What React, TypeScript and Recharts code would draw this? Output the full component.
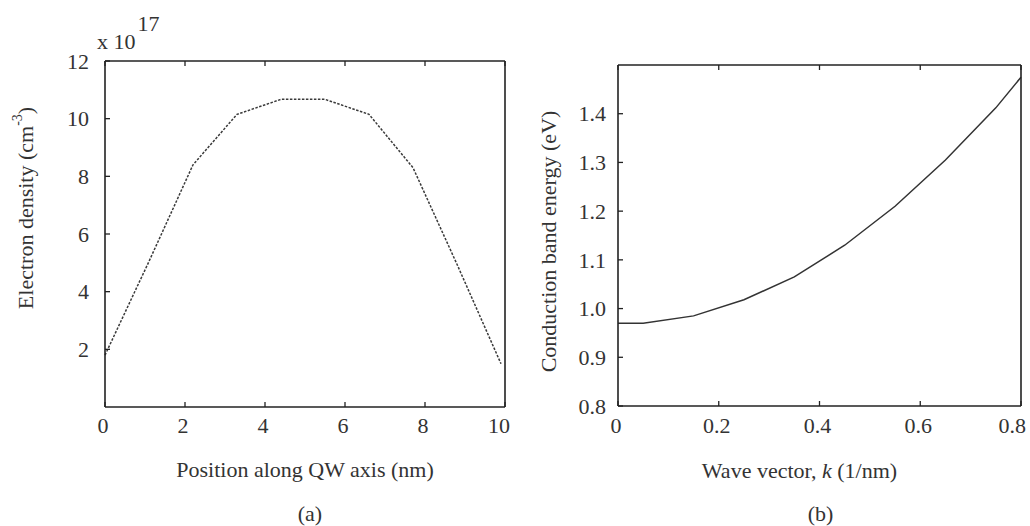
import React from 'react';
import { LineChart, Line, XAxis, YAxis } from 'recharts';

// ---------- Data: panel (a) ----------
const positionNm = [0, 1.1, 2.2, 3.3, 4.4, 5.5, 6.6, 7.7, 8.8, 9.9];
const electronDensity = [1.8, 5.05, 8.4, 10.15, 10.67, 10.67, 10.15, 8.3, 4.95, 1.5];
const densityXTicks = [0, 2, 4, 6, 8, 10];
const densityYTicks = [2, 4, 6, 8, 10, 12];

// ---------- Data: panel (b) ----------
const waveVector = [0, 0.05, 0.15, 0.25, 0.35, 0.45, 0.55, 0.65, 0.75, 0.8];
const bandEnergy = [0.97, 0.97, 0.985, 1.018, 1.065, 1.13, 1.21, 1.305, 1.412, 1.475];
const energyXTicks = [0, 0.2, 0.4, 0.6, 0.8];
const energyYTicks = [0.8, 0.9, 1.0, 1.1, 1.2, 1.3, 1.4];

const densityData = positionNm.map((x, i) => ({ x, y: electronDensity[i] }));
const energyData = waveVector.map((x, i) => ({ x, y: bandEnergy[i] }));

const FONT = '"Liberation Serif", "Times New Roman", serif';
const TXT = '#333';
const FRAME = '#222';
const FS = 22;
const TL = 5;

const axisLine = { stroke: FRAME, strokeWidth: 1.6 };

type Side = 'bottom' | 'top' | 'left' | 'right';

const makeTick = (side: Side, gap: number, fmt?: (v: number) => string, showLabel = true, lastValue?: number) =>
  (props: any) => {
    const { x, y, payload } = props;
    const v = payload.value;
    const label = fmt ? fmt(v) : String(v);
    let line = null;
    let text = null;
    if (side === 'bottom') {
      line = <line x1={x} x2={x} y1={y - gap} y2={y - gap - TL} stroke={FRAME} strokeWidth={1.3} />;
      const isLast = lastValue !== undefined && v === lastValue;
      if (showLabel)
        text = (
          <text
            x={isLast ? x + 5 : x - 2}
            y={y}
            dy="0.71em"
            textAnchor={isLast ? 'end' : 'middle'}
            fill={TXT}
            fontSize={FS}
            fontFamily={FONT}
          >
            {label}
          </text>
        );
    } else if (side === 'top') {
      line = <line x1={x} x2={x} y1={y + gap} y2={y + gap + TL} stroke={FRAME} strokeWidth={1.3} />;
    } else if (side === 'left') {
      line = <line x1={x + gap} x2={x + gap + TL} y1={y} y2={y} stroke={FRAME} strokeWidth={1.3} />;
      if (showLabel)
        text = (
          <text x={x} y={y} dy="0.35em" textAnchor="end" fill={TXT} fontSize={FS} fontFamily={FONT}>
            {label}
          </text>
        );
    } else {
      line = <line x1={x - gap} x2={x - gap - TL} y1={y} y2={y} stroke={FRAME} strokeWidth={1.3} />;
    }
    return (
      <g>
        {line}
        {text}
      </g>
    );
  };

const txtProps = { fill: TXT, fontSize: FS, fontFamily: FONT };

const DensityYTitle = (p: any) => {
  const vb = p.viewBox || {};
  const cx = vb.x + 25;
  const cy = vb.y + vb.height / 2 - 26;
  return (
    <text {...txtProps} x={cx} y={cy} textAnchor="middle" dominantBaseline="central" transform={`rotate(-90 ${cx} ${cy})`}>
      Electron density (cm
      <tspan dy={-8} fontSize={14}>-3</tspan>
      <tspan dy={8}>)</tspan>
    </text>
  );
};

const DensityXTitle = (p: any) => {
  const vb = p.viewBox || {};
  const cx = vb.x + vb.width / 2;
  return (
    <g>
      <text {...txtProps} x={cx} y={vb.y + 62} textAnchor="middle" dominantBaseline="central">
        Position along QW axis (nm)
      </text>
      <text {...txtProps} x={cx + 5} y={vb.y + 106} textAnchor="middle" dominantBaseline="central">
        (a)
      </text>
    </g>
  );
};

const ExponentLabel = (p: any) => {
  const vb = p.viewBox || {};
  return (
    <text {...txtProps} x={vb.x - 8} y={vb.y - 11}>
      x 10
      <tspan dx={2} dy={-18}>17</tspan>
    </text>
  );
};

const EnergyYTitle = (p: any) => {
  const vb = p.viewBox || {};
  const cx = vb.x + 33;
  const cy = vb.y + vb.height / 2 + 6;
  return (
    <text {...txtProps} x={cx} y={cy} textAnchor="middle" dominantBaseline="central" transform={`rotate(-90 ${cx} ${cy})`}>
      Conduction band energy (eV)
    </text>
  );
};

const EnergyXTitle = (p: any) => {
  const vb = p.viewBox || {};
  const cx = vb.x + vb.width / 2;
  return (
    <g>
      <text {...txtProps} x={cx - 20} y={vb.y + 64} textAnchor="middle" dominantBaseline="central">
        Wave vector, <tspan fontStyle="italic">k</tspan> (1/nm)
      </text>
      <text {...txtProps} x={cx + 1} y={vb.y + 107} textAnchor="middle" dominantBaseline="central">
        (b)
      </text>
    </g>
  );
};

const fmt1 = (v: number) => v.toFixed(1);

export default function App() {
  return (
    <div style={{ position: 'absolute', left: 0, top: 0, width: 1030, height: 526, background: '#fff', fontFamily: FONT }}>
      <LineChart
        width={515}
        height={526}
        data={densityData}
        margin={{ top: 60, right: 9, bottom: 0, left: 0 }}
        style={{ position: 'absolute', left: 0, top: 0 }}
      >
        <XAxis
          xAxisId="b"
          dataKey="x"
          type="number"
          domain={[0, 10]}
          ticks={densityXTicks}
          interval={0}
          orientation="bottom"
          height={119}
          tickLine={false}
          tickSize={0}
          tickMargin={10}
          axisLine={axisLine}
          tick={makeTick('bottom', 10, undefined, true, 10)}
          label={{ content: DensityXTitle }}
        />
        <XAxis
          xAxisId="t"
          dataKey="x"
          type="number"
          domain={[0, 10]}
          ticks={densityXTicks}
          interval={0}
          orientation="top"
          height={1}
          tickLine={false}
          tickSize={0}
          tickMargin={0}
          axisLine={axisLine}
          tick={makeTick('top', 0, undefined, false)}
          label={{ content: ExponentLabel }}
        />
        <YAxis
          yAxisId="l"
          type="number"
          domain={[0, 12]}
          ticks={densityYTicks}
          interval={0}
          orientation="left"
          width={105}
          tickLine={false}
          tickSize={0}
          tickMargin={16}
          axisLine={axisLine}
          tick={makeTick('left', 16)}
          label={{ content: DensityYTitle }}
        />
        <YAxis
          yAxisId="r"
          type="number"
          domain={[0, 12]}
          ticks={densityYTicks}
          interval={0}
          orientation="right"
          width={1}
          tickLine={false}
          tickSize={0}
          tickMargin={0}
          axisLine={axisLine}
          tick={makeTick('right', 0, undefined, false)}
        />
        <Line
          xAxisId="b"
          yAxisId="l"
          type="linear"
          dataKey="y"
          stroke="#3a3a3a"
          strokeWidth={1.5}
          strokeDasharray="2.5 1.5"
          dot={false}
          isAnimationActive={false}
        />
      </LineChart>

      <LineChart
        width={515}
        height={526}
        data={energyData}
        margin={{ top: 64, right: 8, bottom: 0, left: 0 }}
        style={{ position: 'absolute', left: 515, top: 0 }}
      >
        <XAxis
          xAxisId="b"
          dataKey="x"
          type="number"
          domain={[0, 0.8]}
          ticks={energyXTicks}
          interval={0}
          orientation="bottom"
          height={120}
          tickLine={false}
          tickSize={0}
          tickMargin={11}
          axisLine={axisLine}
          tick={makeTick('bottom', 11, undefined, true, 0.8)}
          label={{ content: EnergyXTitle }}
        />
        <XAxis
          xAxisId="t"
          dataKey="x"
          type="number"
          domain={[0, 0.8]}
          ticks={energyXTicks}
          interval={0}
          orientation="top"
          height={1}
          tickLine={false}
          tickSize={0}
          tickMargin={0}
          axisLine={axisLine}
          tick={makeTick('top', 0, undefined, false)}
        />
        <YAxis
          yAxisId="l"
          type="number"
          domain={[0.8, 1.5]}
          ticks={energyYTicks}
          interval={0}
          orientation="left"
          width={103}
          tickLine={false}
          tickSize={0}
          tickMargin={12}
          axisLine={axisLine}
          tick={makeTick('left', 12, fmt1)}
          label={{ content: EnergyYTitle }}
        />
        <YAxis
          yAxisId="r"
          type="number"
          domain={[0.8, 1.5]}
          ticks={energyYTicks}
          interval={0}
          orientation="right"
          width={1}
          tickLine={false}
          tickSize={0}
          tickMargin={0}
          axisLine={axisLine}
          tick={makeTick('right', 0, undefined, false)}
        />
        <Line
          xAxisId="b"
          yAxisId="l"
          type="linear"
          dataKey="y"
          stroke="#333"
          strokeWidth={1.5}
          dot={false}
          isAnimationActive={false}
        />
      </LineChart>
    </div>
  );
}
